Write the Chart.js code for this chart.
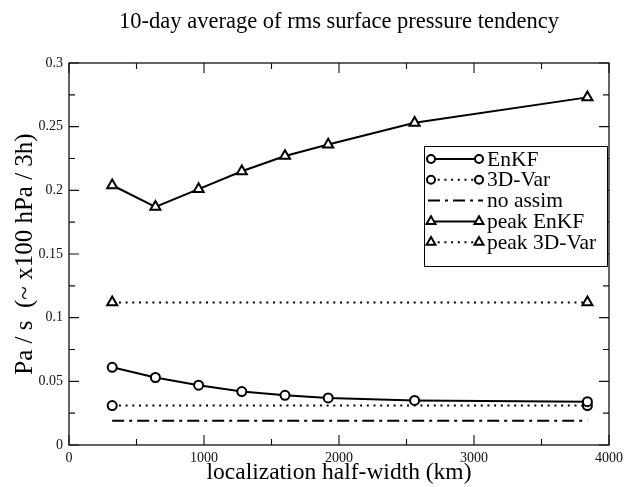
<!DOCTYPE html>
<html><head><meta charset="utf-8">
<script src="https://cdn.jsdelivr.net/npm/chart.js@4.4.0/dist/chart.umd.min.js"></script>
<style>html,body{margin:0;padding:0;background:#fff;} canvas{display:block;}</style>
</head><body>
<canvas id="c" width="628" height="487"></canvas>
<script>
const chartTitle = '10-day average of rms surface pressure tendency';
const xAxisTitle = 'localization half-width (km)';
const yAxisTitle = 'Pa / s  (~ x100 hPa / 3h)';
const halfWidths = [320, 640, 960, 1280, 1600, 1920, 2560, 3840];
const enkf = [0.061, 0.053, 0.047, 0.042, 0.039, 0.037, 0.035, 0.034];
const peakEnkf = [0.204, 0.187, 0.201, 0.215, 0.227, 0.236, 0.253, 0.273];
const flatX = [320, 3840];
const var3d = [0.031, 0.031];
const noAssim = [0.019, 0.019];
const peakVar3d = [0.112, 0.112];
const seriesNames = ['EnKF', '3D-Var', 'no assim', 'peak EnKF', 'peak 3D-Var'];
const xTickLabels = ['0', '1000', '2000', '3000', '4000'];
const yTickLabels = ['0', '0.05', '0.1', '0.15', '0.2', '0.25', '0.3'];

const SERIF = '"Liberation Serif", "DejaVu Serif", serif';
const pts = (xs, ys) => xs.map((x, i) => ({x: x, y: ys[i]}));

function ds(label, data, dash, style, radius) {
  return {
    label: label, data: data,
    borderColor: '#000', backgroundColor: '#fff',
    borderWidth: 2, borderDash: dash, borderCapStyle: 'butt',
    tension: 0, fill: false,
    pointStyle: style || 'circle',
    pointRadius: style ? radius : 0,
    pointHoverRadius: style ? radius : 0,
    pointBorderWidth: 2, pointBackgroundColor: '#fff', pointBorderColor: '#000'
  };
}

const datasets = [
  ds(seriesNames[0], pts(halfWidths, enkf), [], 'circle', 4.5),
  ds(seriesNames[1], pts(flatX, var3d), [2, 4.7], 'circle', 4.5),
  ds(seriesNames[2], pts(flatX, noAssim), [12, 5, 3, 5], null, 0),
  ds(seriesNames[3], pts(halfWidths, peakEnkf), [], 'triangle', 5.8),
  ds(seriesNames[4], pts(flatX, peakVar3d), [2, 4.7], 'triangle', 5.8)
];

function drawMarker(ctx, style, x, y, r) {
  ctx.save();
  ctx.setLineDash([]);
  ctx.lineWidth = 2;
  ctx.strokeStyle = '#000';
  ctx.fillStyle = '#fff';
  ctx.beginPath();
  if (style === 'circle') {
    ctx.arc(x, y, r, 0, Math.PI * 2);
  } else {
    ctx.moveTo(x, y - r);
    ctx.lineTo(x + r * Math.sin(Math.PI * 2 / 3), y + r * 0.5);
    ctx.lineTo(x - r * Math.sin(Math.PI * 2 / 3), y + r * 0.5);
    ctx.closePath();
  }
  ctx.fill();
  ctx.stroke();
  ctx.restore();
}

const framePlugin = {
  id: 'frameTicks',
  afterDraw(chart) {
    const ctx = chart.ctx;
    const a = chart.chartArea;
    const xs = chart.scales.x, ys = chart.scales.y;
    ctx.save();
    // title
    ctx.fillStyle = '#000';
    ctx.font = '22.5px ' + SERIF;
    ctx.textAlign = 'center';
    ctx.textBaseline = 'middle';
    ctx.fillText(chartTitle, (a.left + a.right) / 2, 22);
    // frame
    ctx.strokeStyle = '#111';
    ctx.lineWidth = 1.3;
    ctx.strokeRect(a.left, a.top, a.right - a.left, a.bottom - a.top);
    // inward ticks
    ctx.lineWidth = 1.1;
    for (let v = 0; v <= 4000; v += 500) {
      const px = xs.getPixelForValue(v);
      const len = (v % 1000 === 0) ? 10 : 6;
      ctx.beginPath();
      ctx.moveTo(px, a.bottom); ctx.lineTo(px, a.bottom - len);
      ctx.moveTo(px, a.top); ctx.lineTo(px, a.top + len);
      ctx.stroke();
    }
    for (let k = 0; k <= 12; k++) {
      const py = ys.getPixelForValue(k * 0.025);
      const len = (k % 2 === 0) ? 10 : 6;
      ctx.beginPath();
      ctx.moveTo(a.left, py); ctx.lineTo(a.left + len, py);
      ctx.moveTo(a.right, py); ctx.lineTo(a.right - len, py);
      ctx.stroke();
    }
    // legend
    const bx = 424, by = 146, bw = a.right - 2 - 424, bh = 120;
    ctx.fillStyle = '#fff';
    ctx.fillRect(bx, by, bw, bh);
    ctx.strokeStyle = '#000';
    ctx.lineWidth = 1;
    ctx.strokeRect(bx + 0.5, by + 0.5, bw, bh);
    ctx.font = '21.5px ' + SERIF;
    ctx.textAlign = 'left';
    ctx.textBaseline = 'middle';
    chart.data.datasets.forEach((d, i) => {
      const y = 159 + i * 20.8;
      const x1 = 431, x2 = 479;
      ctx.save();
      ctx.strokeStyle = '#000';
      ctx.lineWidth = 2;
      ctx.setLineDash(d.borderDash || []);
      ctx.beginPath();
      if (d.pointRadius > 0) { ctx.moveTo(x1, y); ctx.lineTo(x2, y); }
      else { ctx.moveTo(428, y); ctx.lineTo(483, y); }
      ctx.stroke();
      ctx.restore();
      if (d.pointRadius > 0) {
        const r = d.pointStyle === 'circle' ? 4 : 5.2;
        drawMarker(ctx, d.pointStyle, x1, y, r);
        drawMarker(ctx, d.pointStyle, x2, y, r);
      }
      ctx.fillStyle = '#000';
      ctx.fillText(d.label, 487, y + 1);
    });
    ctx.restore();
  }
};

new Chart(document.getElementById('c'), {
  type: 'line',
  data: { datasets: datasets },
  options: {
    responsive: false,
    animation: false,
    events: [],
    layout: { padding: { left: 0, right: 15, top: 63, bottom: 0 } },
    plugins: { legend: { display: false }, title: { display: false }, tooltip: { enabled: false } },
    scales: {
      x: {
        type: 'linear', min: 0, max: 4000,
        grid: { display: false, drawTicks: false },
        border: { display: false },
        ticks: {
          stepSize: 1000, autoSkip: false, maxRotation: 0, padding: 5,
          color: '#111', font: { family: SERIF, size: 14 },
          callback: (v, i) => xTickLabels[i]
        },
        title: {
          display: true, text: xAxisTitle, color: '#000',
          font: { family: SERIF, size: 23.5 }, padding: { top: 4, bottom: 0 }
        },
        afterFit: s => { s.height = 42; }
      },
      y: {
        type: 'linear', min: 0, max: 0.3,
        grid: { display: false, drawTicks: false },
        border: { display: false },
        ticks: {
          stepSize: 0.05, autoSkip: false, padding: 6,
          color: '#111', font: { family: SERIF, size: 14 },
          callback: (v, i) => yTickLabels[i]
        },
        title: {
          display: true, text: yAxisTitle, color: '#000',
          font: { family: SERIF, size: 25 }, padding: { top: 10, bottom: 0 }
        },
        afterFit: s => { s.width = 69; }
      }
    }
  },
  plugins: [framePlugin]
});
</script>
</body></html>
